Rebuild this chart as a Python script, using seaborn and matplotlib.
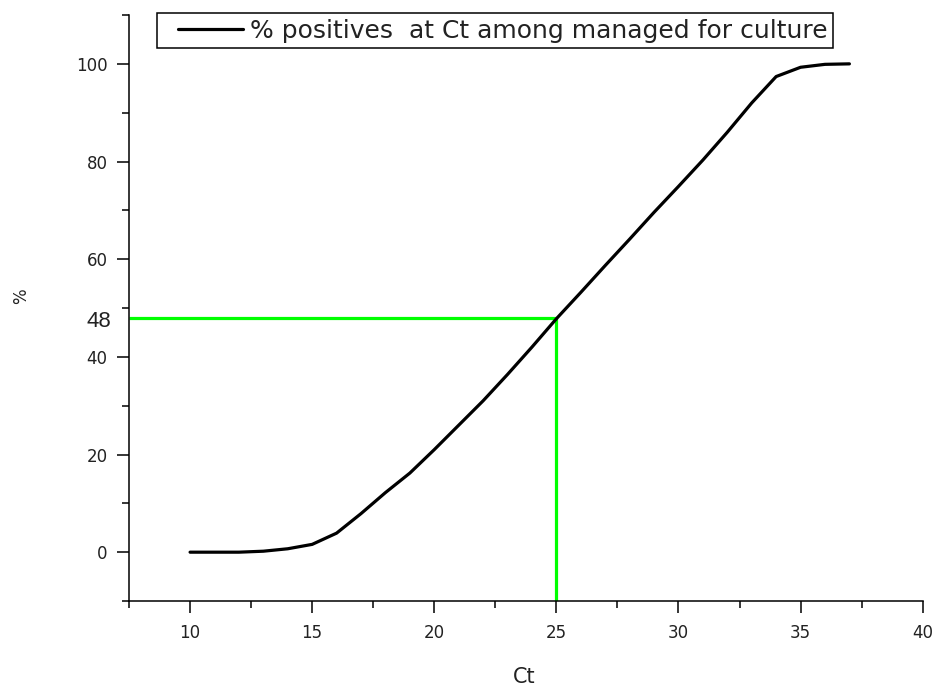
import numpy as np
import pandas as pd
import matplotlib
matplotlib.use("Agg")
import matplotlib.pyplot as plt
from matplotlib.lines import Line2D
from matplotlib.legend_handler import HandlerLine2D
from matplotlib.ticker import MultipleLocator
import seaborn as sns

# curve
ct = [10, 11, 12, 13, 14, 15, 16, 17, 18, 19, 20, 21, 22, 23, 24, 25,
      26, 27, 28, 29, 30, 31, 32, 33, 34, 35, 36, 37]
pct = [0, 0, 0, 0.2, 0.7, 1.6, 3.9, 7.9, 12.2, 16.2, 21.0, 26.0, 31.0, 36.4,
       42.0, 47.8, 53.2, 58.7, 64.1, 69.6, 74.9, 80.3, 86.0, 92.0, 97.4,
       99.3, 99.9, 100.0]
series_label = "% positives  at Ct among managed for culture"

# reference cut-off (green lines)
cutoff_ct = 25
cutoff_pct = 48

x_ticks = [10, 15, 20, 25, 30, 35, 40]
y_ticks = [0, 20, 40, 60, 80, 100]

df = pd.DataFrame({"Ct": ct, "pct": pct})

sns.set_style("ticks")
plt.rcParams["font.family"] = ["DejaVu Sans"]

fig = plt.figure(figsize=(9.37, 6.89), dpi=100)
ax = fig.add_axes([0.1377, 0.1277, 0.847, 0.8505])

xmin, xmax = 7.5, 40
ymin, ymax = -10, 110

ax.hlines(cutoff_pct, xmin, cutoff_ct, color="#00ff00", lw=2.3, zorder=2)
ax.vlines(cutoff_ct, ymin, cutoff_pct, color="#00ff00", lw=2.3, zorder=2)

sns.lineplot(data=df, x="Ct", y="pct", color="black", lw=2.3, ax=ax,
             label=series_label, zorder=3)

ax.set_xlim(xmin, xmax)
ax.set_ylim(ymin, ymax)
ax.set_xticks(x_ticks)
ax.set_yticks(y_ticks)
ax.xaxis.set_minor_locator(MultipleLocator(2.5))
ax.yaxis.set_minor_locator(MultipleLocator(10))

for side in ["top", "right"]:
    ax.spines[side].set_visible(False)
for side in ["left", "bottom"]:
    ax.spines[side].set_linewidth(1.1)
    ax.spines[side].set_color("black")

ax.tick_params(which="major", length=8.5, width=1.1, color="black",
               labelsize=12, labelcolor="#222222")
ax.tick_params(axis="x", which="major", pad=8)
ax.tick_params(axis="y", which="major", pad=7)
ax.tick_params(which="minor", length=5, width=1.1, color="black")

ax.set_xlabel("Ct", fontsize=15, color="#222222")
ax.xaxis.set_label_coords(0.498, -0.112)
ax.set_ylabel("%", fontsize=12, color="#222222")
ax.yaxis.set_label_coords(-0.125, 0.52)

ax.text(6.25, 47.2, str(cutoff_pct), fontsize=16, ha="center",
        va="center", color="#222222", clip_on=False,
        family="Liberation Sans")

leg = ax.legend(loc="upper left", bbox_to_anchor=(0.1676, 0.9811),
                bbox_transform=fig.transFigure, borderaxespad=0,
                fancybox=False, framealpha=1, edgecolor="black",
                fontsize=18, handlelength=3.2, handletextpad=0.3,
                borderpad=0.22,
                handler_map={Line2D: HandlerLine2D(xpad=0.6)})
leg.get_frame().set_linewidth(1.1)
for t in leg.get_texts():
    t.set_color("#222222")

fig.savefig("out.png", dpi=100)
